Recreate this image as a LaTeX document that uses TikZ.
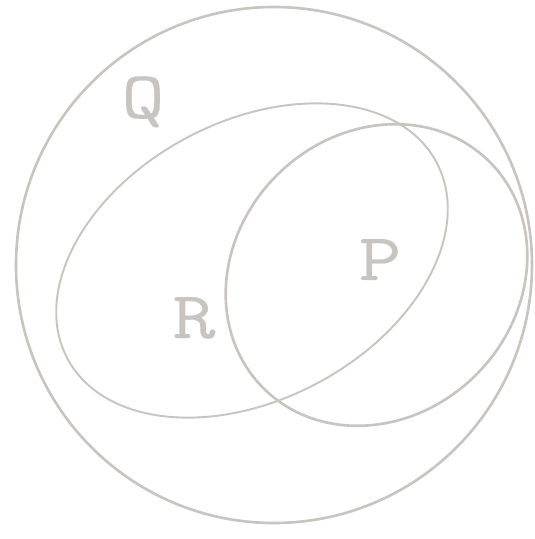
\documentclass[tikz,border=0pt]{standalone}
\usepackage{fontspec}
\usepackage{tikz}
\usetikzlibrary{positioning}

\newfontfamily\vennfont[FakeStretch=1.25, FakeBold=0.3]{Latin Modern Mono}
\definecolor{vennline}{RGB}{200,196,191}

\begin{document}
\begin{tikzpicture}[
    x=0.02cm, y=0.02cm,
    setline/.style={draw=vennline, line width=1.5pt},
    thinset/.style={draw=vennline, line width=1.1pt},
    setlabel/.style={text=vennline, anchor=base, inner sep=0pt,
    font=\vennfont\fontsize{38}{38}\selectfont}
]
\useasboundingbox (0,0) rectangle (535,539);

% ---------------- SETS ----------------
\draw[setline] (274,274) circle [radius=258];

\draw[thinset] (252,278.5) ellipse [x radius=209, y radius=139, rotate=28];

\draw[setline] (376.5,264) ellipse [x radius=160, y radius=141, rotate=45];

% ---------------- LABELS ----------------
\node[setlabel] (labQ) at (143,421) {Q};
\node[setlabel] (labP) at (380,259) {P};
\node[setlabel] (labR) at (194,201) {R};

\end{tikzpicture}
\end{document}
